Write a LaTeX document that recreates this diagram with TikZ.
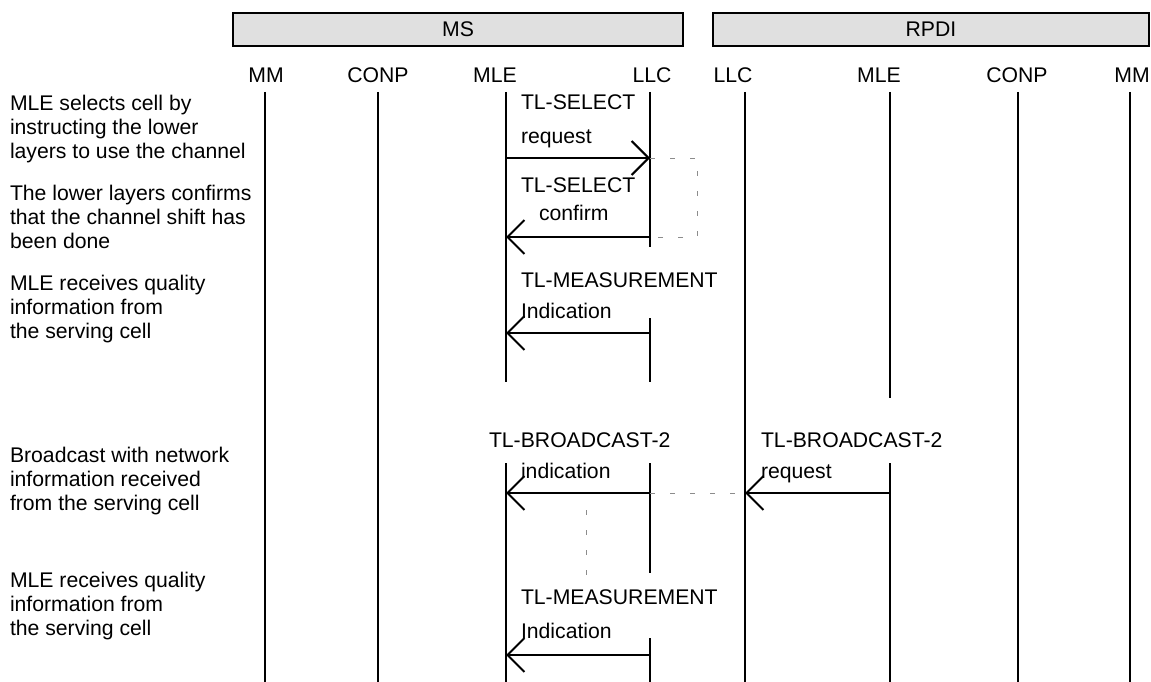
\documentclass[tikz,border=0pt]{standalone}
\usepackage{fontspec}
\setmainfont{Liberation Sans}
\usetikzlibrary{arrows.meta}
\begin{document}
\begin{tikzpicture}[x=1pt,y=-1pt,
  every node/.style={inner sep=0pt, outer sep=0pt, font=\fontsize{21.2}{24}\selectfont},
  life/.style={line width=2pt},
  msg/.style={line width=2pt, -{Straight Barb[length=17pt,width=34pt,line width=2pt]}},
  guide/.style={black!45, line width=1pt, dash pattern=on 5pt off 15pt},
  entity/.style={draw, line width=2pt, fill=black!12, minimum height=33pt, anchor=north west},
  note/.style={anchor=north west, align=left},
  lbl/.style={anchor=base west}
]
\useasboundingbox (0,0) rectangle (1151,682);

% entity boxes
\node[entity, minimum width=450pt] (ms) at (233,13) {MS};
\node[entity, minimum width=436pt] (rpdi) at (713,13) {RPDI};

% header labels
\node (hmm1) at (266,75) {MM};
\node (hconp1) at (378,75) {CONP};
\node (hmle1) at (495,75) {MLE};
\node (hllc1) at (652,75) {LLC};
\node (hllc2) at (733,75) {LLC};
\node (hmle2) at (879,75) {MLE};
\node (hconp2) at (1017,75) {CONP};
\node (hmm2) at (1132,75) {MM};

% lifelines
\draw[life] (265,92) -- (265,682);
\draw[life] (378,92) -- (378,682);
\draw[life] (506,92) -- (506,382);
\draw[life] (506,463) -- (506,682);
\draw[life] (650,92) -- (650,247);
\draw[life] (650,318) -- (650,382);
\draw[life] (650,463) -- (650,573);
\draw[life] (650,638) -- (650,682);
\draw[life] (745,92) -- (745,682);
\draw[life] (890,92) -- (890,398);
\draw[life] (890,463) -- (890,682);
\draw[life] (1018,92) -- (1018,682);
\draw[life] (1130,92) -- (1130,682);

% left notes
\node[note] (n1) at (10,95.5) {MLE selects cell by\\instructing the lower\\layers to use the channel};
\node[note] (n2) at (10,185.5) {The lower layers confirms\\that the channel shift has\\been done};
\node[note] (n3) at (10,275.5) {MLE receives quality\\information from\\the serving cell};
\node[note] (n4) at (10,447.5) {Broadcast with network\\information received\\from the serving cell};
\node[note] (n5) at (10,572.5) {MLE receives quality\\information from\\the serving cell};

% message end points
\coordinate (selreqS) at (506,158);
\coordinate (selreqE) at (650,158);
\coordinate (selcnfS) at (650,237);
\coordinate (selcnfE) at (506,237);
\coordinate (meas1S) at (650,333);
\coordinate (meas1E) at (506,333);
\coordinate (bcindS) at (650,493);
\coordinate (bcindE) at (506,493);
\coordinate (bcreqS) at (890,493);
\coordinate (bcreqE) at (745,493);
\coordinate (meas2S) at (650,655);
\coordinate (meas2E) at (506,655);
\coordinate (dotTop) at (586,510);
\coordinate (dotBot) at (586,575);

% messages
\draw[msg] (selreqS) -- (selreqE);
\draw[msg] (selcnfS) -- (selcnfE);
\draw[msg] (meas1S) -- (meas1E);
\draw[msg] (bcindS) -- (bcindE);
\draw[msg] (bcreqS) -- (bcreqE);
\draw[msg] (meas2S) -- (meas2E);

% guides
\draw[guide] (selreqE) -- ++(47,0) |- (selcnfS);
\draw[guide] (bcindS) -- (bcreqE);
\draw[guide] (dotTop) -- (dotBot);

% message labels
\node[lbl] (t1) at (521,110) {TL-SELECT};
\node[lbl] (t1b) at (521,143) {request};
\node[lbl] (t2) at (521,192) {TL-SELECT};
\node[lbl] (t2b) at (539,220) {confirm};
\node[lbl] (t3) at (521,287) {TL-MEASUREMENT};
\node[lbl] (t3b) at (521,318) {Indication};
\node[lbl] (t4) at (489,447) {TL-BROADCAST-2};
\node[lbl] (t4b) at (521,478) {indication};
\node[lbl] (t5) at (761,447) {TL-BROADCAST-2};
\node[lbl] (t5b) at (761,478) {request};
\node[lbl] (t6) at (521,604) {TL-MEASUREMENT};
\node[lbl] (t6b) at (521,638) {Indication};
\end{tikzpicture}
\end{document}
